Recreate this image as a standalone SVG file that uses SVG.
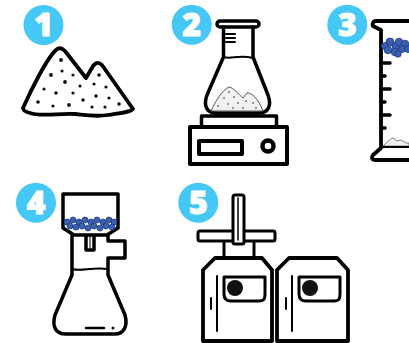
<svg xmlns="http://www.w3.org/2000/svg" width="409" height="343" viewBox="0 0 409 343">
<style>
.b{fill:#45c8f5}
.n{font-family:"Open Sans","DejaVu Sans",sans-serif;font-weight:800;font-size:32px;fill:#fff;stroke:#fff;stroke-width:1;text-anchor:middle}
.s{fill:none;stroke:#000;stroke-linejoin:round;stroke-linecap:round}
.w{fill:#fff;stroke:#000;stroke-linejoin:round;stroke-linecap:round}
.d{fill:#111}
.g{fill:#777}
.p{fill:#3a60b0;stroke:#1f3a80;stroke-width:.8}
</style>
<rect width="409" height="343" fill="#fff"/>
<g id="node1">
<circle class="b" cx="43.500" cy="25" r="20"/><text class="n" x="43.500" y="36">1</text>
<path class="w" stroke-width="3.800" d="M23 108C31 90 47 58 56 50C59 47 62 48 65 51L86 78L93 66C96 62 99 62 102 65L133 109C131 112 120 113 108 115C95 117 85 115 75 114C60 113 40 117 30 113C26 112 23 110 23 108Z"/>
<g class="d"><circle cx="61" cy="60" r="1.900"/><circle cx="51" cy="75" r="1.900"/><circle cx="62" cy="71" r="1.600"/><circle cx="73" cy="75" r="1.600"/><circle cx="65" cy="82" r="1.900"/><circle cx="99" cy="75" r="1.800"/><circle cx="80" cy="86" r="1.600"/><circle cx="94" cy="84" r="1.600"/><circle cx="106" cy="87" r="1.600"/><circle cx="44" cy="89" r="1.600"/><circle cx="56" cy="93" r="1.800"/><circle cx="73" cy="93" r="1.600"/><circle cx="96" cy="96" r="1.800"/><circle cx="83" cy="100" r="1.800"/><circle cx="109" cy="98" r="1.600"/><circle cx="38" cy="102" r="1.800"/><circle cx="53" cy="106" r="1.600"/><circle cx="69" cy="105" r="1.900"/><circle cx="92" cy="107" r="1.600"/><circle cx="105" cy="107" r="1.600"/><circle cx="119" cy="104" r="1.800"/></g>
</g>
<g id="node2">
<circle class="b" cx="191.700" cy="24.700" r="20"/><text class="n" x="191.700" y="35.500">2</text>
<rect class="w" stroke-width="3.500" x="217" y="21" width="42" height="6" rx="3"/>
<path class="s" stroke-width="3.500" d="M223.500 27V57L207 95C203 106 207 113 216 113H259C268 113 272 106 268 95L253 57V27"/>
<path class="s" stroke-width="2" d="M223.500 57C231 60 238 54 253 58"/>
<path class="s" stroke-width="2" stroke-linecap="butt" d="M226 34H235M226 38H235M226 42H235"/>
<path fill="#f1f1f1" stroke="#555" stroke-width="1" d="M211 111C215 102 222 90 229 87C233 87 239 95 243 98L247 93C251 92 258 98 263 111Z"/>
<g class="g"><circle cx="229" cy="92" r="1"/><circle cx="224" cy="98" r="1"/><circle cx="234" cy="97" r="1"/><circle cx="218" cy="106" r="1"/><circle cx="228" cy="104" r="1"/><circle cx="238" cy="103" r="1"/><circle cx="246" cy="101" r="1"/><circle cx="253" cy="103" r="1"/><circle cx="243" cy="108" r="1"/><circle cx="233" cy="108" r="1"/><circle cx="256" cy="108" r="1"/></g>
<rect class="w" stroke-width="3.500" stroke-linejoin="miter" x="201.500" y="116" width="75" height="11"/>
<rect class="w" stroke-width="4" stroke-linejoin="miter" x="190" y="127" width="97" height="37"/>
<rect class="s" stroke-width="4" stroke-linejoin="miter" x="199" y="141" width="43" height="13"/>
<circle class="s" stroke-width="4.500" cx="268" cy="146" r="5.500"/>
</g>
<g id="node3">
<circle class="b" cx="347.300" cy="24.700" r="20"/><text class="n" x="347.300" y="35.500">3</text>
<path class="s" stroke-width="3.800" d="M409 21H376C373 21 372 24 373 26L381 30V148L373 155C371 158 372 160 375 160H409"/>
<path class="s" stroke-width="3.500" d="M381 63H390M381 76H385M381 89H390M381 102H385M381 115H390M381 128H385"/>
<path fill="#f1f1f1" stroke="#666" stroke-width=".8" d="M383 146C386 143 390 139 393 138L397 141L401 140L406 143H409V146Z"/>
<path class="s" stroke-width="2" d="M381 147H409"/>
<g class="p"><circle cx="390" cy="42" r="4"/><circle cx="396" cy="46" r="4"/><circle cx="385" cy="46" r="3.500"/><circle cx="399" cy="42" r="3.800"/><circle cx="405" cy="44" r="3.800"/><circle cx="388" cy="50" r="3.800"/><circle cx="395" cy="52" r="3.800"/><circle cx="402" cy="49" r="3.500"/><circle cx="408" cy="49" r="3.500"/><circle cx="398" cy="54" r="3.200"/></g>
</g>
<g id="node4">
<circle class="b" cx="36" cy="202.700" r="20"/><text class="n" x="36" y="213.500">4</text>
<path class="s" stroke-width="3.500" d="M72 235V275L55 315C52 326 55 334 66 334H115C124 334 128 326 125 315L108 275V258H125V241H108V235"/>
<path class="s" stroke-width="2" d="M72 269C82 272 90 267 108 269"/>
<path class="w" stroke-width="3.500" stroke-linejoin="miter" d="M86 235V250H94V235"/>
<path class="s" stroke-width="1" d="M90 236V248"/>
<path class="w" stroke-width="3.500" stroke-linejoin="miter" d="M63 194H118V228L107 235H74L63 228Z"/>
<g class="p" stroke-width=".6"><circle cx="67" cy="222" r="3"/><circle cx="73" cy="220" r="3"/><circle cx="79" cy="222" r="3"/><circle cx="85" cy="220" r="3"/><circle cx="91" cy="222" r="3"/><circle cx="97" cy="220" r="3"/><circle cx="103" cy="222" r="3"/><circle cx="109" cy="220" r="3"/><circle cx="114" cy="222" r="3"/><circle cx="70" cy="226" r="3"/><circle cx="76" cy="227" r="3"/><circle cx="82" cy="226" r="3"/><circle cx="88" cy="228" r="3"/><circle cx="94" cy="226" r="3"/><circle cx="100" cy="228" r="3"/><circle cx="106" cy="226" r="3"/><circle cx="112" cy="227" r="3"/></g>
<path class="s" stroke-width="2.500" d="M86 328H104"/><circle class="d" cx="113" cy="328" r="1.500"/>
</g>
<g id="node5">
<circle class="b" cx="198.300" cy="202.700" r="20"/><text class="n" x="198.300" y="213.500">5</text>
<path class="s" stroke-width="3" d="M224 243V258M254 243V258"/>
<rect class="w" stroke-width="3" x="198" y="231" width="77" height="10" rx="2"/>
<rect class="w" stroke-width="3" x="233" y="195" width="11" height="49" rx="2"/>
<path class="s" stroke-width="1.500" d="M238 198V240"/>
<g id="unit1"><path class="w" stroke-width="3.800" stroke-linejoin="miter" d="M203 341V270L215 258H262L272 270V341Z"/>
<path class="s" stroke-width="2" d="M217 276V331"/><path class="s" stroke-width="2" d="M211 298V309"/>
<path class="s" stroke-width="3" d="M224 277H265V294C265 300 263 301 259 301H231C227 301 224 299 224 294Z"/>
<circle class="d" cx="235" cy="288" r="8"/></g>
<g id="unit2"><path class="w" stroke-width="3.800" stroke-linejoin="miter" d="M277 341V270L289 258H337L348 270V341Z"/>
<path class="s" stroke-width="2" d="M292 276V331"/><path class="s" stroke-width="2" d="M286 298V309"/>
<path class="s" stroke-width="3" d="M299 277H340V294C340 300 338 301 334 301H306C302 301 299 299 299 294Z"/>
<circle class="d" cx="310" cy="288" r="8"/></g>
</g>
<g id="connectors"/>
</svg>
